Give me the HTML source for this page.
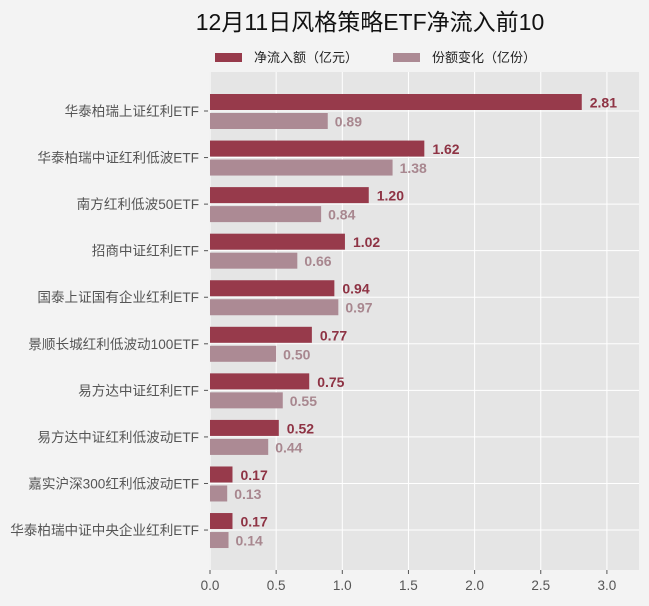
<!DOCTYPE html>
<html><head><meta charset="utf-8"><style>
body{margin:0;background:#f3f3f3;}
svg{display:block;font-family:"Liberation Sans","Noto Sans CJK SC",sans-serif;}
</style></head><body>
<svg id="c" width="649" height="606">
<rect width="649" height="606" fill="#f3f3f3"/>
<text x="370" y="30" text-anchor="middle" font-size="23" fill="#111">12月11日风格策略ETF净流入前10</text>
<g>
<rect x="215" y="53" width="27" height="9" fill="#973a4b"/>
<text x="254" y="62" font-size="13" fill="#222">净流入额（亿元）</text>
<rect x="393" y="53" width="27" height="9" fill="#ac8a94"/>
<text x="432" y="62" font-size="13" fill="#222">份额变化（亿份）</text>
</g>
<rect x="209" y="72" width="430" height="498" fill="#e5e5e5"/>
<g id="grid"></g><g id="bars"></g><g id="axes"></g>
</svg>
<script>
const categories=["华泰柏瑞上证红利ETF","华泰柏瑞中证红利低波ETF","南方红利低波50ETF","招商中证红利ETF","国泰上证国有企业红利ETF","景顺长城红利低波动100ETF","易方达中证红利ETF","易方达中证红利低波动ETF","嘉实沪深300红利低波动ETF","华泰柏瑞中证中央企业红利ETF"];
const netInflow=[2.81,1.62,1.20,1.02,0.94,0.77,0.75,0.52,0.17,0.17];
const shareChange=[0.89,1.38,0.84,0.66,0.97,0.50,0.55,0.44,0.13,0.14];
const xTicks=["0.0","0.5","1.0","1.5","2.0","2.5","3.0"];
const NS="http://www.w3.org/2000/svg";
const x=v=>210+v*132.3;
const yc=i=>111+i*46.56;
function mk(t,a,p){const e=document.createElementNS(NS,t);for(const k in a)e.setAttribute(k,a[k]);p.appendChild(e);return e;}
const grid=document.getElementById('grid'),bars=document.getElementById('bars'),axes=document.getElementById('axes');
xTicks.forEach(t=>{const v=parseFloat(t);
 const l=mk('line',{x1:x(v),x2:x(v),y1:72,y2:570,stroke:'#fff','stroke-width':1},grid);
 
 
 const tk=mk('line',{x1:x(v),x2:x(v),y1:570,y2:574,stroke:'#555'},axes);
 
 
 const tx=mk('text',{x:x(v),y:590,'text-anchor':'middle','font-size':13.5,fill:'#555'},axes);tx.textContent=t;
 
 
});
categories.forEach((c,i)=>{const y=yc(i);
 const g=mk('line',{x1:209,x2:639,y1:y,y2:y,stroke:'#fff'},grid);
 
 
 const tk=mk('line',{x1:204,x2:208,y1:y,y2:y,stroke:'#555'},axes);
 
 
 const lb=mk('text',{x:199,y:y+5,'text-anchor':'end','font-size':13.6,fill:'#555'},axes);lb.textContent=c;
 
 
 const b1=mk('rect',{x:x(0),y:y-17,width:x(netInflow[i])-x(0),height:16,fill:'#973a4b'},bars);
 
 
 const t1=mk('text',{x:x(netInflow[i])+8,y:y-3.5,'font-size':14,'font-weight':'bold',fill:'#8e3344'},bars);t1.textContent=netInflow[i].toFixed(2);
 
 
 const b2=mk('rect',{x:x(0),y:y+2,width:x(shareChange[i])-x(0),height:16,fill:'#ac8a94'},bars);
 
 
 const t2=mk('text',{x:x(shareChange[i])+7,y:y+15.5,'font-size':14,'font-weight':'bold',fill:'#a8878f'},bars);t2.textContent=shareChange[i].toFixed(2);
 
 
});
</script>
</body></html>
